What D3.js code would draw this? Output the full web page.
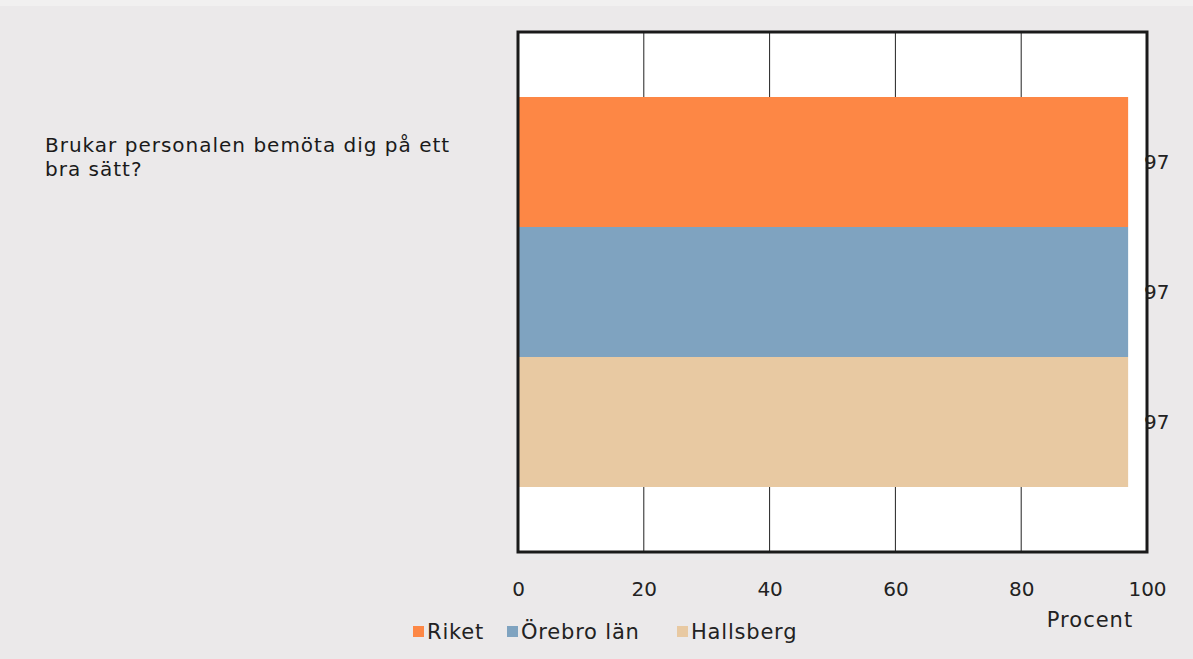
<!DOCTYPE html>
<html>
<head>
<meta charset="utf-8">
<script src="https://cdn.jsdelivr.net/npm/d3@7"></script>
<style>
  body { margin: 0; background: #ebe9ea; }
  svg { display: block; font-family: 'DejaVu Sans', sans-serif; }
</style>
</head>
<body>
<svg id="chart"></svg>
<script>
// data
const question = ['Brukar personalen bemöta dig på ett', 'bra sätt?'];
const series = ['Riket', 'Örebro län', 'Hallsberg'];
const values = [97, 97, 97];
const colors = ['#fd8745', '#7fa3c0', '#e8c9a2'];
const ticks = [0, 20, 40, 60, 80, 100];

const width = 1193, height = 659;
const plotLeft = 518, plotRight = 1147, plotTop = 32, plotBottom = 552;

let svg = d3.select('#chart')
  .attr('width', width)
  .attr('height', height);

svg.append('rect')
  .attr('width', width).attr('height', height)
  .attr('fill', '#ebe9ea');

svg.append('rect')
  .attr('width', width).attr('height', 6)
  .attr('fill', '#f1f0f0');

let xScale = d3.scaleLinear().domain([0, 100]).range([plotLeft, plotRight]);
let yScale = d3.scaleBand().domain(series).range([plotTop, plotBottom])
  .paddingInner(0).paddingOuter(0.5);

// plot area
svg.append('rect')
  .attr('x', plotLeft).attr('y', plotTop)
  .attr('width', plotRight - plotLeft).attr('height', plotBottom - plotTop)
  .attr('fill', '#fff');

// grid
svg.append('g')
  .selectAll('line')
  .data(ticks.slice(1, -1))
  .enter()
  .append('line')
  .attr('x1', d => xScale(d)).attr('x2', d => xScale(d))
  .attr('y1', plotTop).attr('y2', plotBottom)
  .attr('stroke', '#222').attr('stroke-width', 1);

// bars
svg.append('g')
  .selectAll('rect')
  .data(series)
  .enter()
  .append('rect')
  .attr('x', xScale(0))
  .attr('y', d => yScale(d))
  .attr('width', (d, i) => xScale(values[i]) - xScale(0))
  .attr('height', yScale.bandwidth())
  .attr('fill', (d, i) => colors[i]);

// value labels
svg.append('g')
  .selectAll('text')
  .data(series)
  .enter()
  .append('text')
  .attr('x', plotRight - 3)
  .attr('y', d => yScale(d) + yScale.bandwidth() / 2)
  .attr('dy', '0.35em')
  .attr('font-size', 20)
  .attr('fill', '#222')
  .text((d, i) => values[i]);

// frame
svg.append('rect')
  .attr('x', plotLeft).attr('y', plotTop)
  .attr('width', plotRight - plotLeft).attr('height', plotBottom - plotTop)
  .attr('fill', 'none')
  .attr('stroke', '#1a1a1a').attr('stroke-width', 3);

// x axis
let xAxis = svg.append('g')
  .attr('transform', 'translate(0,' + (plotBottom + 30) + ')')
  .call(d3.axisBottom(xScale).tickValues(ticks).tickSize(0).tickPadding(0));
xAxis.select('.domain').remove();
xAxis.selectAll('text')
  .attr('font-size', 20)
  .attr('font-family', "'DejaVu Sans', sans-serif")
  .attr('fill', '#222');

svg.append('text')
  .attr('x', 1090).attr('y', 627)
  .attr('text-anchor', 'middle')
  .attr('font-size', 21)
  .attr('letter-spacing', 1)
  .attr('fill', '#222')
  .text('Procent');

// question
svg.append('g')
  .selectAll('text')
  .data(question)
  .enter()
  .append('text')
  .attr('x', 45)
  .attr('y', (d, i) => 152 + i * 24)
  .attr('font-size', 20)
  .attr('letter-spacing', 1)
  .attr('fill', '#1a1a1a')
  .text(d => d);

// legend
const legendX = [413, 507, 677];
let legend = svg.append('g')
  .selectAll('g')
  .data(series)
  .enter()
  .append('g')
  .attr('transform', (d, i) => 'translate(' + legendX[i] + ',632)');
legend.append('rect')
  .attr('x', 0).attr('y', -6)
  .attr('width', 11).attr('height', 11)
  .attr('fill', (d, i) => colors[i]);
legend.append('text')
  .attr('x', 14)
  .attr('dy', '0.35em')
  .attr('font-size', 21)
  .attr('letter-spacing', 0.8)
  .attr('fill', '#222')
  .text(d => d);
</script>
</body>
</html>
